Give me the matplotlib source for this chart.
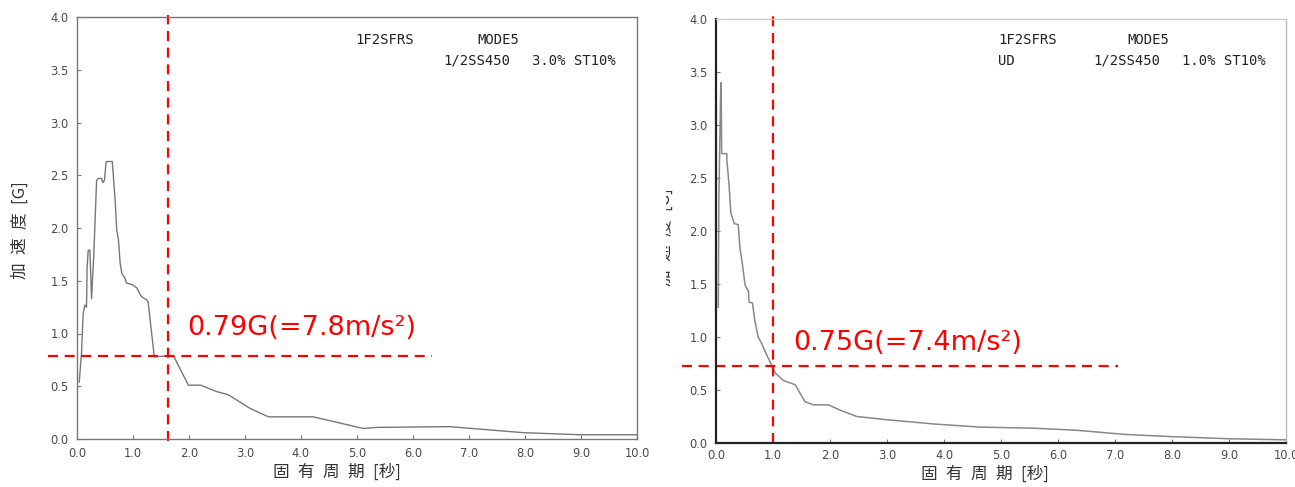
import matplotlib
matplotlib.use("Agg")
import matplotlib.pyplot as plt
from matplotlib.transforms import Bbox, TransformedBbox

plt.rcParams['font.family'] = ['DejaVu Sans', 'Noto Sans CJK JP']

# ---------------- data ----------------
left_period = [0.04, 0.08, 0.11, 0.14, 0.17, 0.18, 0.20, 0.23, 0.26, 0.30, 0.35, 0.38, 0.44,
               0.46, 0.49, 0.52, 0.63, 0.68, 0.71, 0.74, 0.77, 0.80, 0.86, 0.88, 1.00, 1.07,
               1.15, 1.24, 1.27, 1.38, 1.72, 1.99, 2.21, 2.49, 2.70, 3.09, 3.42, 4.22, 5.11,
               5.35, 6.66, 7.97, 9.01, 10.0]
left_acc = [0.54, 0.81, 1.19, 1.27, 1.25, 1.62, 1.79, 1.79, 1.33, 1.75, 2.45, 2.47, 2.47,
            2.43, 2.45, 2.63, 2.63, 2.27, 1.98, 1.89, 1.67, 1.57, 1.52, 1.48, 1.46, 1.43,
            1.35, 1.32, 1.30, 0.78, 0.79, 0.51, 0.51, 0.45, 0.42, 0.29, 0.21, 0.21, 0.10,
            0.11, 0.117, 0.06, 0.04, 0.04]

right_period = [0.04, 0.05, 0.085, 0.09, 0.10, 0.19, 0.19, 0.23, 0.26, 0.32, 0.39, 0.42, 0.46,
                0.51, 0.57, 0.58, 0.64, 0.68, 0.74, 0.80, 0.89, 0.99, 1.04, 1.18, 1.39, 1.56,
                1.71, 1.97, 2.18, 2.47, 2.99, 3.81, 4.63, 5.57, 6.33, 7.20, 8.00, 9.00, 10.0]
right_acc = [1.28, 2.30, 3.40, 3.38, 2.73, 2.73, 2.67, 2.43, 2.17, 2.07, 2.06, 1.84, 1.70,
             1.49, 1.43, 1.33, 1.32, 1.16, 1.00, 0.94, 0.83, 0.72, 0.66, 0.59, 0.55, 0.39,
             0.36, 0.36, 0.31, 0.25, 0.22, 0.18, 0.15, 0.14, 0.12, 0.08, 0.06, 0.04, 0.03]

x_ticks = [0.0, 1.0, 2.0, 3.0, 4.0, 5.0, 6.0, 7.0, 8.0, 9.0, 10.0]
y_ticks = [0.0, 0.5, 1.0, 1.5, 2.0, 2.5, 3.0, 3.5, 4.0]

left_ref_period = 1.62
left_ref_acc = 0.79
left_ref_hspan = (-0.52, 6.34)
right_ref_period = 1.0
right_ref_acc = 0.73
right_ref_hspan = (-0.6, 7.05)

left_note = "0.79G(=7.8m/s²)"
right_note = "0.75G(=7.4m/s²)"
ylabel_txt = "加\u2002速\u2002度\u2002[G]"
xlabel_txt = "固\u2002有\u2002周\u2002期\u2002[秒]"

# ---------------- figure ----------------
W, H = 1295, 487
fig = plt.figure(figsize=(W / 100, H / 100), dpi=100)


def fx(px):
    return px / W


def fy(py):
    return 1 - py / H


axL = fig.add_axes([fx(77), fy(439), fx(637) - fx(77), fy(17) - fy(439)])
axR = fig.add_axes([fx(716), fy(443), fx(1286) - fx(716), fy(19) - fy(443)])

tick_color = '#4a4a4a'
for ax in (axL, axR):
    ax.set_xlim(0, 10)
    ax.set_ylim(0, 4)
    ax.set_xticks(x_ticks)
    ax.set_yticks(y_ticks)
    ax.set_xticklabels([f"{v:.1f}" for v in x_ticks])
    ax.set_yticklabels([f"{v:.1f}" for v in y_ticks])
    ax.tick_params(direction='in', length=3, width=0.8, colors='#777777',
                   labelcolor=tick_color, labelsize=8.3, pad=6)
    for s in ax.spines.values():
        s.set_color('#777777')
        s.set_linewidth(1.0)
axR.tick_params(axis='x', pad=4)

axR.spines['left'].set_color('#222222')
axR.spines['left'].set_linewidth(1.6)
axR.spines['bottom'].set_color('#222222')
axR.spines['bottom'].set_linewidth(1.6)
axR.spines['top'].set_color('#cccccc')
axR.spines['right'].set_color('#bbbbbb')

axL.plot(left_period, left_acc, color='#777777', lw=1.0)
axR.plot(right_period, right_acc, color='#888888', lw=1.1)

red = '#ff0000'
dash = (0, (4.5, 3))
axL.plot([left_ref_period, left_ref_period], [-0.02, 4.02], color=red, lw=1.6,
         linestyle=dash, clip_on=False)
axL.plot(list(left_ref_hspan), [left_ref_acc, left_ref_acc], color=red, lw=1.6,
         linestyle=dash, clip_on=False)
axR.plot([right_ref_period, right_ref_period], [-0.0, 4.04], color=red, lw=1.6,
         linestyle=dash, clip_on=False)
axR.plot(list(right_ref_hspan), [right_ref_acc, right_ref_acc], color=red, lw=1.6,
         linestyle=dash, clip_on=False)

axL.text(1.96, 0.99, left_note, color=red, fontsize=19.5, ha='left', va='baseline')
axR.text(1.35, 0.877, right_note, color=red, fontsize=19.5, ha='left', va='baseline')

# header texts
mono = 'DejaVu Sans Mono'
hdr = dict(fontsize=10, family=mono, color='#222222', va='baseline', ha='left')
fig.text(fx(355), fy(44), "1F2SFRS", **hdr)
fig.text(fx(477), fy(44), "MODE5", **hdr)
fig.text(fx(443), fy(65), "1/2SS450", **hdr)
fig.text(fx(532), fy(65), "3.0% ST10%", **hdr)

fig.text(fx(998), fy(44), "1F2SFRS", **hdr)
fig.text(fx(1127), fy(44), "MODE5", **hdr)
fig.text(fx(998), fy(65), "UD", **hdr)
fig.text(fx(1093), fy(65), "1/2SS450", **hdr)
fig.text(fx(1182), fy(65), "1.0% ST10%", **hdr)

# axis labels
lab = dict(fontsize=12, family=['Noto Sans CJK JP', 'DejaVu Sans'], color='#333333',
           ha='center', va='center')
fig.text(fx(20), fy(230), ylabel_txt, rotation=90, **lab)
fig.text(fx(337), fy(472), xlabel_txt, **lab)
fig.text(fx(985), fy(474), xlabel_txt, **lab)
tR = fig.text(fx(665), fy(237), ylabel_txt, rotation=90, **lab)
clip = TransformedBbox(Bbox.from_extents(fx(666), 0, 1, 1), fig.transFigure)
tR.set_clip_box(clip)
tR.set_clip_on(True)

fig.savefig("out.png", dpi=100)
